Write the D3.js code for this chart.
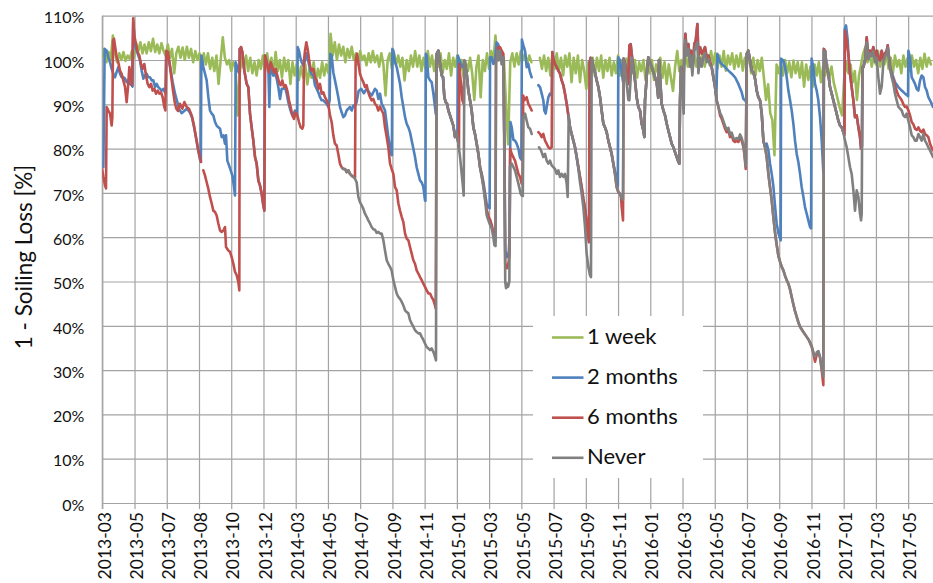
<!DOCTYPE html>
<html>
<head>
<meta charset="utf-8">
<script src="https://cdn.jsdelivr.net/npm/d3@7"></script>
<style>
  html, body { margin: 0; padding: 0; background: #fff; }
  svg { display: block; }
  text { font-family: Lato, "Open Sans", sans-serif; fill: #111; }
</style>
</head>
<body>
<svg id="chart" width="933" height="583"></svg>
<script>
// ---------------- data ----------------
// Day 0 of every series is 2013-03-01; x values below are days since then.
const startDate = Date.UTC(2013, 2, 1);
const tickStepDays = 61;
const tickLabels = ["2013-03","2013-05","2013-07","2013-08","2013-10","2013-12","2014-03","2014-05",
  "2014-07","2014-09","2014-11","2015-01","2015-03","2015-05","2015-07","2015-09","2015-11","2016-01",
  "2016-03","2016-05","2016-07","2016-09","2016-11","2017-01","2017-03","2017-05"];
const yTicks = [0, 10, 20, 30, 40, 50, 60, 70, 80, 90, 100, 110];
const lastDay = 1572;

const seriesNames = ["1 week", "2 months", "6 months", "Never"];
const seriesColors = ["#9bbb59", "#4f81bd", "#c0504d", "#808080"];

// "1 week": one reading every 4 days (null = no data)
const weeklyStepDays = 4;
const weekly = [
  100.5,102.5,99.5,101.8,100,105.5,101.5,99.5,101.5,100,
  101.8,99.8,101,100.2,102,100.5,103.8,102,104,101.5,
  103.5,101.5,104,102,104.8,101.8,103.5,101.5,103.8,102,
  101,103.5,100.5,102.5,97,101.5,103,100.5,102.8,100,
  103,100.5,102.5,99.5,102,100,101.5,98.5,101.5,99,
  101.5,98,100.5,97.5,101,94.6,100,105.1,100.5,99,
  100,97.5,99.5,98.5,87.5,97,100.5,98,101,97.5,
  100.5,97,99.5,96.5,100,98,101,97.5,101.5,98,
  100.5,96.5,101.8,97.5,100,96,100.5,97.5,100,94.6,
  99.5,96.5,99,95.5,98.5,96,99,94.5,98,96,
  99.5,95,98,96,99.5,96.5,99,97,105.9,101,
  104,100,103.5,101,103,99.5,102.5,100.5,103,100,
  101.5,99,102,100,101,98.8,101.5,99.5,102,99.5,
  101,98.5,101.5,99,92,100,101.5,98,101.5,99,
  101,98.5,100.5,95.4,100,97.5,101,98.5,102,98.5,
  101,97.5,100.5,98,102,98.5,101,97.5,100.5,98.5,
  101.5,97,100,98,101.5,96.5,100.5,98.5,101,97,
  100,96,99.5,97.5,100.5,97,91,98.5,101,91.6,
  100,97.5,101.5,98,102,99.5,105.5,100,102,99,
  100,90,81,99.5,101.5,98.5,101.5,99,102,100,
  101.5,99,101,99.5,null,null,null,100.5,98,101,
  97.5,100.5,96.5,101.5,98,101.5,97.5,100.5,96.5,101,
  98.5,101.5,95,100.5,97,101,95,100,97.5,93.5,
  99.5,97,100.5,96.5,100.5,97.5,101,96,100,97.5,
  100.5,96.5,99.5,97,101,96.5,100,97.5,100.3,96,
  99.5,97,100,96,99.5,97.5,100,95.5,99.5,97,
  100,95.5,99,97,100.5,96,99.5,94.6,99,96,
  93,98.5,102,97.5,100,98,101.5,98.5,101,99,
  101.5,98.5,101,99,102,98.5,101,99.5,102,99,
  101.5,98,101,98.5,102,97.6,101,99,101.5,98,
  101,98.5,101.5,97.6,100.5,99,101,97,100.5,96.5,
  100,97.5,100.5,96,91,94.5,88,86.5,78.5,99,
  97,99.5,96.5,100,97,99.5,96.1,99.9,97,99.5,
  96,99.5,94,99,95.5,98.5,93.9,99,96.5,99.5,
  95,98.5,96.5,99,96,98.5,95,93,91,89,
  87.5,96,99.5,97,99,95,97.5,91,96.5,99,
  101.5,102.9,99.5,101.5,98.5,101,99,102,98.5,101,
  99,101.5,98,100.5,97,101,98.5,100,97,101,
  98.5,100.5,97.5,101,98.5,100,97,100.5,98,101.4,
  98.5,100.5,99
];

// "6 months": [day, value]
const sixMonths = [
  [0,75.2],[2,73.6],[5.1,71.7],[7,71],[8.3,89.4],[11.4,88.6],[14.6,87.9],[17.7,85.2],[19,87.1],[20.3,104.4],
  [22.1,104.8],[24,103.3],[27.2,100.6],[30.3,99.5],[33.5,97.6],[36.6,96.9],[39.8,95.4],[43,93.9],[46.1,90.5],
  [48.6,93.9],[51.2,98.4],[53.7,96.1],[56.2,94.3],[58.5,109.4],[60.6,105.5],[63.8,103.6],[66.9,101.8],[70.1,101],
  [73.2,99.1],[76.4,98],[79.5,99.1],[82.7,96.5],[85.9,94.6],[89,93.9],[92.2,94.6],[95.3,93.1],[98.5,93.5],
  [101.6,92.4],[104.8,93.1],[107.9,92.4],[111.1,92.7],[114.2,91.6],[117.4,89.4],[119.3,88.6],[121.2,102.1],
  [124.3,101.8],[127.5,99.1],[130.6,96.1],[133.8,93.1],[137,90.5],[140.1,89],[143.3,88.5],[147,90.1],[151.5,89],
  [155.3,90.5],[159.7,89.4],[164.1,89],[169.1,87.5],[173.5,85.2],[177.3,82.6],[181.8,79.6],[186.8,77],[189,null],
  [191.2,75.1],[194.4,73.9],[197.5,72.4],[200.7,70.9],[203.8,69.1],[207,67.6],[210.1,66],[213.3,65.7],[216.4,64.9],
  [219.6,63.1],[222.8,61.5],[225.9,61.2],[229.1,61.5],[232.2,62.3],[234.1,57.8],[238.5,57],[241.7,56.7],[244.8,55.5],
  [248,54],[251.1,52.2],[254.3,51.4],[257.4,49.9],[259.3,48],[260,102.5],[262.5,102.9],[265,101.8],[268.8,97.6],
  [273.2,94.6],[276.3,93.9],[279.5,87.9],[282.6,84.8],[285.8,81.8],[289,78.1],[292.1,76.6],[295.3,72.8],[298.4,71.7],
  [301.6,69.8],[304.7,67.2],[306.6,66],[307.9,101],[309.8,100.3],[312.3,98.7],[315.4,97.2],[318.6,99.5],[321.8,98.4],
  [324.9,97.2],[328.1,98],[331.2,96.5],[334.4,95],[337.5,94.3],[340.7,95.4],[343.8,93.9],[347,94.3],[350.1,93.1],
  [353.3,90.9],[356.4,89.4],[359.6,87.5],[362.8,86.7],[365.9,88.2],[369.1,87.5],[372.2,86],[375.4,84.8],[378.5,84.5],
  [380.4,85.2],[381.7,99.9],[383.6,102.1],[386.1,104],[388.6,102.5],[391.1,100.3],[393.7,98.4],[396.2,97.6],
  [399.3,98],[402.5,96.1],[405.6,95.4],[408.8,93.5],[412,94.6],[415.1,92.4],[418.3,92.7],[421.4,91.6],[424.6,90.9],
  [427.7,90.1],[430.9,87.5],[434,86],[437.2,83],[440.3,81.1],[443.5,80.7],[446.6,78.8],[449.8,76.6],[452.9,75.8],
  [456.1,75.4],[459.3,75.4],[462.4,74.7],[465.6,75.1],[468.7,74.3],[471.9,73.9],[475,73.6],[478.2,73.4],[479.4,99.9],
  [482,101.4],[484.5,99.5],[487.6,96.9],[490.8,95.8],[494,95],[497.1,93.9],[500.3,94.3],[503.4,92.7],[506.6,91.6],
  [509.7,90.9],[512.9,91.2],[516,90.1],[519.2,89.7],[522.3,88.6],[525.5,89.5],[528.7,88.6],[531.9,87.9],[535,84.8],
  [538.2,82.6],[541.3,80.3],[544.5,76.6],[547.6,75.4],[550.8,74.3],[553.9,71.3],[557.1,70.6],[560.3,67.6],[563.4,66],
  [566.6,64.6],[569.7,63.4],[572.9,60.8],[576,59.7],[579.2,59.3],[582.3,57.8],[585.5,56.3],[588.6,54.8],[591.8,54],
  [594.9,52.5],[598.1,51.8],[601.3,51],[604.4,50.3],[607.6,49.5],[610.7,48.8],[613.9,48],[617,47.3],[620.2,47.3],
  [623.3,46.5],[626.5,45.8],[629.6,44.6],[630.9,43.9],[632.8,101.4],[636,102.1],[639.1,99.1],[642.3,96.5],
  [644.8,96.1],[647.3,91.6],[649.8,90.5],[652.4,90.1],[654.9,88.6],[658,87.5],[661.2,86.3],[664.3,85.2],[667.5,82.6],
  [670.6,83.7],[673.8,81.1],[675,80],[675.6,99.1],[677.6,96.1],[680.1,93.1],[681.4,90.9],[683.9,90.1],[685.2,99.9],
  [686.4,99.1],[689.6,96.9],[692.7,93.1],[695.9,90.9],[699,88.6],[702.2,84.8],[705.3,83.3],[708.5,81.1],[711.7,78.8],
  [714.8,75.8],[718,74],[721.1,71.8],[724.3,69],[727.4,66.3],[730.6,64.8],[733.7,64],[736.9,62.8],[740,61.2],
  [742,59.5],[744,59],[745,100],[747,101.4],[749.5,103],[752.7,102.9],[755.8,102.1],[759,101.4],[761,80],[762.5,54],
  [766,53],[769,54.5],[770.5,56],[771.8,80],[774.8,78.8],[781,77.3],[787.4,74.3],[790.5,73.6],[793.7,72.1],
  [795.5,72.3],[796.5,92],[798.7,90.9],[803.1,91.6],[806.2,90.1],[809.4,89.4],[812.5,88.6],[818,null],[825.2,83.7],
  [828.3,83.3],[831.5,82.6],[834.6,83.3],[837.8,81.8],[840.9,81.1],[844.1,80.3],[847.2,80],[850.4,80.3],[851.6,101.8],
  [853.5,100.3],[856.7,99.1],[859.9,98.4],[863,97.6],[866.2,96.9],[869.3,95.4],[872.5,94.3],[875.6,92.4],[878.8,90.1],
  [881.9,87.5],[885.1,84.8],[888.2,83.3],[891.4,81.8],[894.5,80.3],[897.7,78.1],[900.9,75.8],[904,73.6],[907.2,71.3],
  [910.3,68.7],[913.5,66.4],[916.6,63.4],[919.8,60.4],[921,58.9],[922.3,99.5],[924,100.5],[926.1,100.3],[929.2,98.4],
  [932.4,97.2],[935.5,95.4],[938.7,93.9],[941.9,91.6],[945,88.6],[948.2,85.6],[951.3,84.8],[954.5,83.7],[957.6,81.8],
  [960.8,80.3],[963.9,78.8],[967.1,76.6],[970.2,74.3],[973.4,71.3],[976.5,70.2],[979.7,69.8],[981.6,69.1],[982.9,66.8],
  [985.4,63.8],[986.6,100.3],[987.9,99.9],[990.4,98.4],[992.9,96.1],[995.5,94.6],[997.4,103.3],[999.9,103.6],
  [1001.8,101.4],[1004.9,98.4],[1008.1,95.4],[1011.2,91.6],[1014.4,89.4],[1017.6,88.6],[1020.7,85.6],[1023.9,84.1],
  [1025.8,82.6],[1027,90.9],[1028.9,93.9],[1031.4,98.4],[1033.3,100.6],[1036.5,99.5],[1039.6,98.4],[1042.8,97.2],
  [1045.9,96.1],[1049.1,95],[1052,91.5],[1053.5,100],[1056,95],[1058.6,90.1],[1061.8,88.6],[1064.9,87.5],[1068.1,85.6],
  [1071.2,84.1],[1074.4,82.6],[1077.5,81.1],[1080.7,80.3],[1083.8,79.2],[1087,78.1],[1090.2,77],[1092,76.6],
  [1093.3,90.9],[1095.2,98.4],[1097.7,95],[1100.2,97],[1101.5,101.4],[1103.4,105.9],[1105.9,102.1],[1109.1,103.6],
  [1112.2,99.9],[1114.1,102.1],[1116.6,97.6],[1118.5,100.6],[1120.4,103.6],[1123,104.4],[1126.1,108.1],[1128,101],
  [1131.2,102.9],[1134.3,101.4],[1137.5,102.1],[1140.6,102.9],[1143.8,100.6],[1146.9,101],[1150.1,99.5],[1153.2,98.4],
  [1156.4,96.1],[1159.5,93.9],[1162.7,90.9],[1165.9,89.4],[1169,87.5],[1172.2,86.7],[1175.3,85.6],[1178.5,84.5],
  [1181.6,83.7],[1184.8,84.1],[1187.9,82.6],[1191.1,83],[1194.2,81.8],[1197.4,81.5],[1200.5,81.8],[1203.7,81.5],
  [1206.9,82.6],[1210,81.8],[1213.2,80.3],[1215,78.8],[1217.6,75.4],[1219.5,101.4],[1222.6,102.1],[1225.8,99.9],
  [1228.9,97.6],[1232.1,97.2],[1235.2,95.8],[1238.4,93.1],[1241.5,91.6],[1244.7,90.9],[1247.9,87.9],[1251,81.8],
  [1254.2,80.3],[1257.3,78.1],[1260.5,74.3],[1263.6,71.3],[1266.8,68.3],[1269.9,64.6],[1273.1,61],[1276.2,58.3],
  [1279.4,55.8],[1282.5,54.5],[1285.7,53.3],[1288.9,52.5],[1292,51.3],[1295.2,50.3],[1298.3,49.5],[1301.5,48.2],
  [1304.6,46.5],[1307.8,44.8],[1310.9,43.3],[1314.1,42],[1317.2,40.8],[1320.4,39.8],[1326.7,38.6],[1333,37.5],
  [1337,36.8],[1342.5,35.3],[1345.6,33.8],[1348.8,31.9],[1352,33.5],[1355.1,34.1],[1358.2,32.8],[1361.4,30],
  [1364.5,26.6],[1365.5,102.5],[1367.7,102.1],[1370.8,98.4],[1374,96.9],[1377.1,93.9],[1380.3,92.4],[1383.4,90.9],
  [1386.6,89.4],[1389.7,87.9],[1392.9,86.3],[1396.1,85.2],[1399.2,84.8],[1402.4,83.7],[1404.5,83],[1405.5,106.6],
  [1408.7,104.4],[1411.8,101.4],[1415,96.9],[1418.1,93.9],[1421.3,90.9],[1424.4,87.1],[1427.6,87.5],[1430.8,84.8],
  [1433.9,82.6],[1435.8,80],[1437.5,80.5],[1438.5,98.4],[1440.2,98.4],[1443.4,99.9],[1446.5,105.1],[1449.7,100.6],
  [1452.8,102.1],[1456,101.4],[1459.1,102.9],[1462.3,100.6],[1465.4,102.1],[1468.6,100.3],[1471.8,99.9],[1474.9,102.1],
  [1478.1,100.3],[1481.2,101.4],[1484.4,102.1],[1486.3,103.3],[1488.8,100.6],[1490.7,98.4],[1493.8,96.5],[1497,95.5],
  [1500.1,94.3],[1503.3,93],[1506.5,92],[1509.6,91.5],[1512.8,90.9],[1515.9,90],[1519.1,89.4],[1522.2,89.5],
  [1525.4,88.6],[1528.5,87.5],[1531.7,86],[1534.8,85.5],[1538,84.5],[1541.1,84.2],[1544.3,84.8],[1547.5,84],
  [1550.6,83.7],[1553.8,84.3],[1556.9,83.3],[1560.1,83],[1563.2,82.6],[1566.4,81.1],[1569.5,80.2],[1572,79.6]
];

// "2 months": its own stretches; between them it reads the same as "6 months"
const twoMonthsA = [
  [0,76.6],[2,75.8],[3.2,88],[4.5,102.5],[8.3,102.1],[11.4,100.6],[14.6,99.5],[17.7,98],[20.9,96.9],[24,96.1],
  [27.2,97.3],[30.3,98.4],[33.5,96.9],[36.6,96.1],[39.8,96.1],[43,95.8],[46.1,95],[49.3,95.4],[52.4,94.6],[55.6,94.3],
  [57.2,94],[58.5,108.5],[61.9,103.6],[65,102.1],[68.2,101],[71.3,99.9],[74.5,97.6],[77.7,95.8],[80.8,96.5],[84,96.9],
  [87.1,96.1],[90.3,96.1],[93.4,95.4],[96.6,95.4],[99.7,93.9],[102.9,94.6],[106,93.9],[109.2,93.5],[112.3,93.1],
  [115.5,93.5],[118.7,92.7],[119.8,92.5],[120.8,101.4],[123.7,101],[126.9,99.5],[130,97.3],[133.2,95],[137.6,92.4],
  [142,90.5],[145,89],[150,88],[155,88.5],[160,89],[165,88.3],[170,87],[175,84],[180,80.5],[185,77.5],[186.5,77],
  [187.5,101],[191.2,98.4],[194.4,96.9],[197.5,95.4],[200.7,91.6],[203.8,88.6],[207,87.9],[210.1,87.5],[213.3,86],
  [216.4,85.2],[219.6,84.8],[222.8,84.5],[225.9,82.6],[229.1,83],[232.2,81.1],[234.1,83],[236.6,77.3],[239.8,76.2],
  [243,75.1],[246.1,73.9],[249.3,71.3],[251.1,69.4],[252.4,99.5],[255,98.5],[257,97.5],[259.3,97],[260,102.5]
];
const twoMonthsB = [
  [307.9,101],[311,99.5],[314.2,98.4],[316.1,89.4],[318,98.4],[320.5,97.6],[323.6,96.5],[326.8,97.2],[329.9,95.8],
  [333.1,93.9],[336.3,91.2],[339.4,93.5],[342.6,93.5],[345.7,93.9],[348.9,92.4],[352,90.5],[355.2,89],[358.3,87.9],
  [361.5,87.5],[364.6,88.6],[367.8,87.9],[369,87.5],[369.7,102.9],[372.2,102.1],[374.7,100.6],[377.3,99.5],
  [380.4,98.7],[383.6,99.9],[386.1,101.5],[388.6,100.5],[391.1,99],[393.7,97.5],[396.2,96.8],[399.3,96.5],[402.5,94.3],
  [405.6,93.5],[408.8,92.7],[412,91.6],[415.1,90.9],[418.3,90.9],[421.4,90.5],[424.6,90.1],[427.7,89.4],[430.2,90.9],
  [431.5,101.4],[434,101],[437.2,97.2],[440.3,95.4],[443.5,93.5],[446.6,91.6],[449.8,89.4],[452.9,88.2],[456.1,87.1],
  [459.3,87.5],[462.4,88.6],[465.6,89],[468.7,89.4],[471.9,88.6],[475,89.7],[478.2,89.7],[481.3,90.5],[485,93],
  [490,93.5],[495,92.5],[500,93.5],[505,92.7],[510,92],[516,93.5],[519.3,93.1],[522.4,91.2],[525.6,92.4],[528.7,90.1],
  [531.9,89.4],[535,88.6],[538.2,85.6],[541.3,82.6],[544.5,80.3],[546.4,78.8],[548,78.5],[548.9,102.5],[550.8,102.1],
  [553.9,99.5],[557.1,98.4],[560.3,96.5],[563.4,94.6],[566.6,91.6],[569.7,89.4],[572.9,87.1],[576,85.6],[579.2,84.8],
  [582.3,83.7],[585.5,81.8],[588.6,80],[591.8,78.1],[594.9,75.8],[598.1,74.3],[601.3,72.8],[604.4,72.4],[607.6,71.3],
  [610.7,68.3],[611.5,68.2],[612.2,101.4],[613.9,101],[617,96.1],[620.2,95.4],[623.3,95],[626.5,92.4],[629.6,89.4],
  [630.9,87.9],[632.8,101.4]
];
const twoMonthsC = [[672,82],[672.8,101],[676,100],[679,99],[681.4,98.4],[684,98.5],[685.2,99.9]];
const twoMonthsD = [
  [718,74.3],[721.1,72.5],[724.3,70],[727.4,67.5],[730.6,66.8],[733,66.5],[733.8,100.6],[737,100.6],[740,99.1],
  [743,99.5],[746,104],[749,103.6],[752,102.5],[756,101],[759,100.5],[761,80],[762.5,57],[766,55.5],[769,56.5],
  [770.8,60],[772.3,86],[774.8,84.8],[777.9,82],[781,81.8],[784.2,81.1],[787.4,80],[790.5,78],[793,77.5],[794,104.6],
  [796.8,103.3],[799.9,102.1],[803.1,98.4],[806.2,99.1],[809.4,97.2],[812.5,96.1],[818,null],[825.2,94.3],[828.3,93.9],
  [831.5,92.4],[834.6,90.9],[836.5,88.6],[839,87.9],[840.9,89.4],[844.1,91.6],[847.2,92.4],[850.4,92]
];
const twoMonthsE = [[922.3,99.5],[924,100.5]];
const twoMonthsF = [[970.2,74.8],[973.4,72.5],[975.5,71.5],[976.5,100.6],[979.7,99.9],[982.9,97.2],[985.5,95],[986.6,100.3]];
const twoMonthsG = [
  [1162,91.5],[1164,101.4],[1166,100.6],[1169,99.5],[1172.2,99.1],[1178.5,98.4],[1184.8,97.6],[1191.1,96.9],
  [1197.4,96.1],[1203.7,94.6],[1210,92.7],[1213.2,91.2],[1216.3,90.9],[1218.5,90.5],[1219.5,101.4]
];
const twoMonthsH = [
  [1257.3,81.1],[1260.5,79.6],[1263.6,76.6],[1266.8,74.3],[1269.9,71.5],[1273.1,67],[1276.2,63],[1279.4,61],
  [1282.5,59.8],[1283.8,59.3],[1284.6,100.3],[1288.9,99.9],[1292,98.4],[1295.2,96.1],[1298.3,93.1],[1301.5,90.9],
  [1304.6,88.6],[1307.8,85.6],[1310.9,81.8],[1314.1,78.8],[1317.2,77],[1320.4,74.3],[1323.5,71.3],[1326.7,69.1],
  [1329.8,66.8],[1333,65.3],[1336.1,63.8],[1339.3,62.3],[1341.3,62],[1342.2,100.3],[1345.6,98.4],[1348.7,94.6],
  [1351.9,93.1],[1355,90.9],[1358.2,87.1],[1361.4,81.8],[1364.5,74.7],[1365.5,102.5]
];
const twoMonthsJ = [[1404,83.5],[1405,107],[1407.4,107.8],[1410.6,104.4]];
const twoMonthsK = [
  [1490.7,98.4],[1493.8,97.2],[1500.1,95],[1506.5,93.9],[1512.8,93.1],[1519.1,92.4],[1523.5,92],[1524.8,91.8],
  [1525.4,102.1],[1528.5,100.6],[1531.7,96.1],[1534.8,95.4],[1538,94.6],[1541.1,93.5],[1544.3,93.1],[1547.5,95.4],
  [1550.6,96.5],[1553.8,96.1],[1556.9,93.9],[1560.1,93.1],[1563.2,91.6],[1566.4,90.9],[1569.5,90.1],[1572,89.4]
];

// "Never": logged from day 454; between its own stretches it reads the same as "6 months"
const neverA = [
  [454,75.6],[456.1,75.4],[459.3,75.4],[462.4,74.7],[465.6,75.1],[468.7,74.3],[471.9,73.9],[475,73.6],[478.2,73.2],
  [481.3,72.4],[484.5,69.1],[487.6,67.9],[490.8,67.2],[494,66.4],[497.1,65.3],[500.3,64.6],[503.4,63.8],[506.6,63.1],
  [509.7,62.3],[512.9,61.8],[516,61.7],[519.2,61],[522.4,61.2],[525.5,60.8],[528.7,60.8],[531.9,59.3],[535,57],
  [538.2,54.8],[541.3,54],[544.5,53.3],[547.6,52.5],[550.8,50.3],[553.9,48.8],[557.1,47.3],[560.3,46.5],[563.4,46.1],
  [566.6,45.4],[569.7,44.6],[572.9,43.5],[576,43.1],[579.2,42.8],[582.3,41.3],[585.5,40.5],[588.6,39.8],[591.8,39],
  [594.9,38.6],[598.1,38.3],[601.3,38.3],[604.4,37.5],[607.6,36.8],[610.7,36],[613.9,35.2],[617,34.9],[620.2,34.5],
  [623.3,34.9],[626.5,34.1],[629.6,33],[631.5,32.2],[632.8,101.4]
];
const neverB = [[677,78.1],[680.1,74.3],[682.6,71.3],[683.9,69.4],[685.2,99.9]];
const neverC = [
  [718,73.6],[721.1,71.3],[724.3,68.3],[727.4,65],[730.6,63.8],[733.7,62.8],[736.9,62],[740,60],[742,58.2],
  [744.2,58],[745.1,99.1],[747.6,102.1],[750.1,99.9],[752.7,102.1],[755.8,99.1],[759,100.6],[761,75],[762.5,50],
  [764,48.5],[766,49.5],[768,48.8],[770.3,50],[771.5,76],[774.8,76.6],[781,75.1],[787.4,72.1],[791.8,69.8],
  [793.7,69.4],[795.8,69.3],[796.8,87],[800,87.9],[803.1,86.3],[806.2,84.8],[809.4,84.5],[812.5,83.3],[818,null],
  [826.4,80.3],[830.2,79.6],[834.6,78.1],[837.8,78.8],[840.9,77.3],[844.1,76.6],[847.2,77.3],[850.4,76.2],
  [853.5,75.8],[856.7,75.4],[859.9,74.3],[863,75.1],[866.2,73.6],[869.3,74.3],[872.5,73.6],[875.6,74.3],[878.8,72.1],
  [880.7,69.1],[882.6,87.5]
];
const neverD = [
  [900.9,75.5],[904,72.4],[907.2,69.8],[910.3,66.8],[913.5,62.3],[916.6,56.3],[919.8,53.3],[922.9,51.4],[924.8,51],
  [926.1,100.3]
];
const neverE = [
  [982.9,69],[985.4,68.5],[986.6,100.3],[987.9,99.5],[990.4,97],[992.9,94],[995.5,91],[997.4,90.9],[999.9,96],
  [1001.8,100.5]
];
const neverF = [
  [1093.3,90.9],[1095.2,98.4],[1097.7,93.9],[1100.2,87.9],[1101.5,100.5],[1103.4,104.5],[1105.9,101],[1109.1,102.5],
  [1112.2,98.5],[1114.1,101],[1116.6,96.5],[1118.5,99.5],[1120.4,102],[1123,103],[1126.1,104],[1128,97],[1131.2,100.5],
  [1134.3,98.5],[1137.5,100.6],[1140.6,101.5],[1143.8,99.5],[1146.9,100.2],[1150.1,98.8]
];
const neverG = [
  [1169,88.1],[1172.2,87.3],[1175.3,86.2],[1178.5,85.1],[1181.6,84.3],[1184.8,84.7],[1187.9,83.2],[1191.1,83.6],
  [1194.2,82.4],[1197.4,82.1],[1200.5,82.4],[1203.7,82.1],[1206.9,83.2],[1210,82.4],[1213.2,80.9],[1215,79.4],
  [1217.6,76]
];
const neverH = [[1345.6,34],[1348.8,33],[1352,34],[1355.1,34.3],[1358.2,33],[1361.4,30.5],[1364.5,28.5],[1365.5,102.1]];
const neverI = [
  [1405.5,81.8],[1408.7,80.3],[1411.8,78.1],[1415,75.8],[1418.1,74.3],[1421.3,70.6],[1424.4,66],[1427.6,70.6],
  [1430.8,69.1],[1433.9,65.3],[1435.8,63.8],[1437.1,65.3],[1438.5,98.4],[1440.2,98.4],[1443.4,99.9],[1446.5,104],
  [1449.7,100.2],[1452.8,101.5],[1456,100.8],[1459.1,102],[1462.3,99.5],[1465.4,100.5],[1468.6,96],[1471.8,92.4],
  [1474.9,94],[1478.1,99.5],[1481.2,100.8],[1484.4,101.5],[1486.3,102.8],[1488.8,100.2],[1490.7,98],[1493.8,96.1],
  [1497,94.6],[1500.1,92.4],[1503.3,90.9],[1506.5,89.4],[1509.6,89],[1512.8,88.6],[1515.9,87.5],[1519.1,87.1],
  [1522.2,87.9],[1525.4,86.3],[1528.5,84.8],[1531.7,83],[1534.8,82.6],[1538,81.8],[1541.1,81.8],[1544.3,83.3],
  [1547.5,82.6],[1550.6,81.8],[1553.8,83.3],[1556.9,81.8],[1560.1,81.1],[1563.2,80.3],[1566.4,79.6],[1569.5,78.8],
  [1572,78.1]
];

// ---------------- series assembly ----------------
const spanOf = (series, from, to) => series.filter(p => p[0] >= from && p[0] <= to);

const twoMonths = [].concat(
  twoMonthsA, spanOf(sixMonths, 262, 307), twoMonthsB, spanOf(sixMonths, 633, 671), twoMonthsC,
  spanOf(sixMonths, 686, 716), twoMonthsD, spanOf(sixMonths, 851, 921.5), twoMonthsE,
  spanOf(sixMonths, 926, 968), twoMonthsF, spanOf(sixMonths, 987, 1160), twoMonthsG,
  spanOf(sixMonths, 1222, 1255), twoMonthsH, spanOf(sixMonths, 1367, 1403), twoMonthsJ,
  spanOf(sixMonths, 1411, 1489), twoMonthsK
);
const never = [].concat(
  neverA, spanOf(sixMonths, 633, 674), neverB, spanOf(sixMonths, 686, 715), neverC,
  spanOf(sixMonths, 884, 898), neverD, spanOf(sixMonths, 927, 982), neverE,
  spanOf(sixMonths, 1003, 1092.5), neverF, spanOf(sixMonths, 1152, 1166), neverG,
  spanOf(sixMonths, 1219, 1343), neverH, spanOf(sixMonths, 1367, 1403), neverI
);
const oneWeek = weekly.map((v, i) => [i * weeklyStepDays, v]);

const allSeries = [oneWeek, twoMonths, sixMonths, never];

// ---------------- drawing ----------------
const plot = { left: 102.3, right: 933, top: 15.7, bottom: 503 };
const gridColor = "#a3a3a3";
const toDate = d => new Date(startDate + d * 864e5);

const x = d3.scaleUtc().domain([toDate(0), toDate(lastDay)]).range([plot.left, plot.right]);
const y = d3.scaleLinear().domain([0, 110]).range([plot.bottom, plot.top]);

const svg = d3.select("#chart");

svg.append("defs").append("clipPath").attr("id", "plot-clip")
  .append("rect")
  .attr("x", plot.left).attr("y", 0)
  .attr("width", plot.right - plot.left).attr("height", plot.bottom + 1);

// horizontal grid + y labels
const gy = svg.append("g").attr("transform", `translate(${plot.left},0)`)
  .call(d3.axisLeft(y).tickValues(yTicks).tickFormat(d => d + "%").tickSize(0).tickPadding(18));
gy.select(".domain").remove();
gy.selectAll(".tick line")
  .attr("x1", 0).attr("x2", plot.right - plot.left)
  .attr("stroke", gridColor).attr("stroke-width", 1.2);
gy.selectAll(".tick text")
  .attr("font-size", 16).attr("dy", "0.36em").attr("y", 1.5)
  .style("font-family", "Lato, sans-serif").attr("fill", "#111");

// vertical grid + x labels
const tickDates = tickLabels.map((_, i) => toDate(i * tickStepDays));
const gx = svg.append("g").attr("transform", `translate(0,${plot.bottom})`)
  .call(d3.axisBottom(x).tickValues(tickDates).tickFormat((d, i) => tickLabels[i]).tickSizeOuter(0));
gx.select(".domain").attr("stroke", gridColor).attr("stroke-width", 1.2);
gx.selectAll(".tick line")
  .attr("y1", 6).attr("y2", -(plot.bottom - plot.top))
  .attr("stroke", gridColor).attr("stroke-width", 1.2);
gx.selectAll(".tick text")
  .attr("transform", "rotate(-90)")
  .attr("text-anchor", "end")
  .attr("x", -9).attr("y", 7.7).attr("dy", 0)
  .attr("font-size", 17.5)
  .style("font-family", "Lato, sans-serif").attr("fill", "#111");

// y axis line
svg.append("line")
  .attr("x1", plot.left).attr("x2", plot.left)
  .attr("y1", plot.top).attr("y2", plot.bottom + 6)
  .attr("stroke", gridColor).attr("stroke-width", 1.2);

// y axis title
svg.append("text")
  .attr("transform", `translate(31.5,${(162 + 352) / 2}) rotate(-90)`)
  .attr("text-anchor", "middle")
  .attr("font-size", 22.5)
  .text("1 - Soiling Loss [%]");

// series lines
const line = d3.line()
  .defined(p => p[1] != null)
  .x(p => x(toDate(p[0])))
  .y(p => y(p[1]));

svg.append("g").attr("clip-path", "url(#plot-clip)")
  .selectAll("path")
  .data(allSeries)
  .join("path")
  .attr("d", line)
  .attr("fill", "none")
  .attr("stroke", (d, i) => seriesColors[i])
  .attr("stroke-width", 2.6)
  .attr("stroke-linejoin", "round")
  .attr("stroke-linecap", "round");

// legend
const legend = svg.append("g");
legend.append("rect")
  .attr("x", 533).attr("y", 316)
  .attr("width", 170).attr("height", 162)
  .attr("fill", "#fff");
const entries = legend.selectAll("g.entry")
  .data(seriesNames)
  .join("g")
  .attr("class", "entry")
  .attr("transform", (d, i) => `translate(0,${337.5 + i * 40.1})`);
entries.append("line")
  .attr("x1", 552).attr("x2", 583.5)
  .attr("y1", 0).attr("y2", 0)
  .attr("stroke", (d, i) => seriesColors[i])
  .attr("stroke-width", 2.6);
entries.append("text")
  .attr("x", 587).attr("y", 6.5)
  .attr("font-size", 22)
  .text(d => d);
</script>
</body>
</html>
